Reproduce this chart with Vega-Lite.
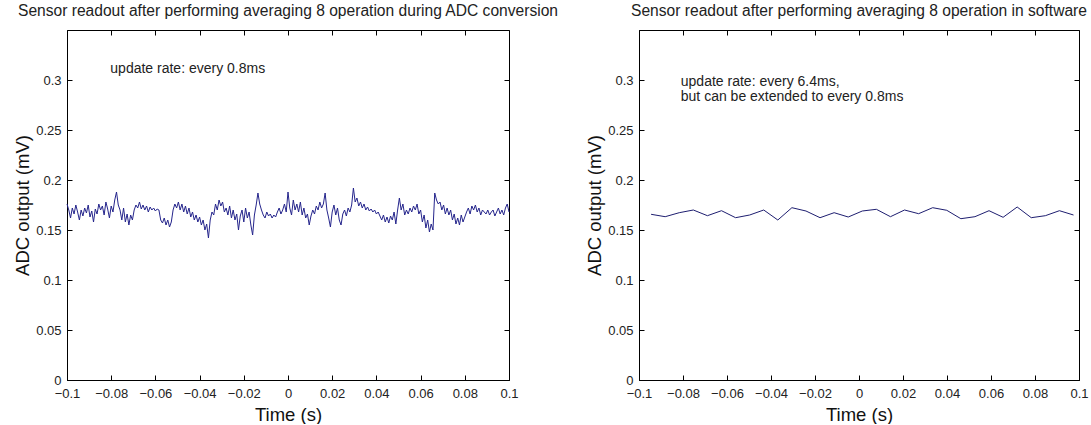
{
  "$schema": "https://vega.github.io/schema/vega-lite/v6.json",
  "background": "white",
  "padding": {"left": 13, "top": 3, "right": 2, "bottom": 0},
  "bounds": "flush",
  "spacing": 130,
  "config": {
    "font": "Liberation Sans",
    "view": {"stroke": "black", "strokeWidth": 1},
    "axis": {"grid": false, "domainColor": "black", "tickColor": "black", "labelColor": "#222", "labelFontSize": 13, "titleFontSize": 18.5, "titleFontWeight": "normal", "titleColor": "#111", "tickSize": -5, "labelFont": "Liberation Sans", "titleFont": "Liberation Sans"},
    "title": {"font": "Liberation Sans", "fontSize": 15.6, "fontWeight": "normal", "color": "#222", "offset": 10}
  },
  "datasets": {
    "left": [
{"t":-0.1,"v":0.176},{"t":-0.0992,"v":0.170},{"t":-0.0984,"v":0.162},{"t":-0.0976,"v":0.172},{"t":-0.0968,"v":0.166},{"t":-0.096,"v":0.175},{"t":-0.0952,"v":0.168},{"t":-0.0944,"v":0.160},{"t":-0.0936,"v":0.170},{"t":-0.0928,"v":0.164},
{"t":-0.092,"v":0.172},{"t":-0.0912,"v":0.167},{"t":-0.0904,"v":0.175},{"t":-0.0896,"v":0.163},{"t":-0.0888,"v":0.169},{"t":-0.088,"v":0.158},{"t":-0.0872,"v":0.171},{"t":-0.0864,"v":0.166},{"t":-0.0856,"v":0.176},{"t":-0.0848,"v":0.170},
{"t":-0.084,"v":0.174},{"t":-0.0832,"v":0.165},{"t":-0.0824,"v":0.178},{"t":-0.0816,"v":0.171},{"t":-0.0808,"v":0.162},{"t":-0.08,"v":0.174},{"t":-0.0792,"v":0.168},{"t":-0.0784,"v":0.180},{"t":-0.0776,"v":0.188},{"t":-0.0768,"v":0.175},
{"t":-0.076,"v":0.170},{"t":-0.0752,"v":0.160},{"t":-0.0744,"v":0.172},{"t":-0.0736,"v":0.158},{"t":-0.0728,"v":0.166},{"t":-0.072,"v":0.155},{"t":-0.0712,"v":0.165},{"t":-0.0704,"v":0.160},{"t":-0.0696,"v":0.170},{"t":-0.0688,"v":0.175},
{"t":-0.068,"v":0.172},{"t":-0.0672,"v":0.178},{"t":-0.0664,"v":0.171},{"t":-0.0656,"v":0.175},{"t":-0.0648,"v":0.170},{"t":-0.064,"v":0.174},{"t":-0.0632,"v":0.168},{"t":-0.0624,"v":0.173},{"t":-0.0616,"v":0.170},{"t":-0.0608,"v":0.172},
{"t":-0.06,"v":0.169},{"t":-0.0592,"v":0.171},{"t":-0.0584,"v":0.170},{"t":-0.0576,"v":0.160},{"t":-0.0568,"v":0.157},{"t":-0.056,"v":0.162},{"t":-0.0552,"v":0.155},{"t":-0.0544,"v":0.160},{"t":-0.0536,"v":0.153},{"t":-0.0528,"v":0.158},
{"t":-0.052,"v":0.170},{"t":-0.0512,"v":0.176},{"t":-0.0504,"v":0.172},{"t":-0.0496,"v":0.178},{"t":-0.0488,"v":0.170},{"t":-0.048,"v":0.176},{"t":-0.0472,"v":0.168},{"t":-0.0464,"v":0.174},{"t":-0.0456,"v":0.166},{"t":-0.0448,"v":0.172},
{"t":-0.044,"v":0.163},{"t":-0.0432,"v":0.168},{"t":-0.0424,"v":0.160},{"t":-0.0416,"v":0.165},{"t":-0.0408,"v":0.158},{"t":-0.04,"v":0.163},{"t":-0.0392,"v":0.155},{"t":-0.0384,"v":0.160},{"t":-0.0376,"v":0.150},{"t":-0.0368,"v":0.156},
{"t":-0.036,"v":0.142},{"t":-0.0352,"v":0.160},{"t":-0.0344,"v":0.168},{"t":-0.0336,"v":0.165},{"t":-0.0328,"v":0.176},{"t":-0.032,"v":0.170},{"t":-0.0312,"v":0.180},{"t":-0.0304,"v":0.174},{"t":-0.0296,"v":0.178},{"t":-0.0288,"v":0.168},
{"t":-0.028,"v":0.172},{"t":-0.0272,"v":0.165},{"t":-0.0264,"v":0.174},{"t":-0.0256,"v":0.162},{"t":-0.0248,"v":0.170},{"t":-0.024,"v":0.160},{"t":-0.0232,"v":0.166},{"t":-0.0224,"v":0.150},{"t":-0.0216,"v":0.164},{"t":-0.0208,"v":0.170},
{"t":-0.02,"v":0.158},{"t":-0.0192,"v":0.172},{"t":-0.0184,"v":0.162},{"t":-0.0176,"v":0.168},{"t":-0.0168,"v":0.155},{"t":-0.016,"v":0.145},{"t":-0.0152,"v":0.165},{"t":-0.0144,"v":0.175},{"t":-0.0136,"v":0.187},{"t":-0.0128,"v":0.176},
{"t":-0.012,"v":0.170},{"t":-0.0112,"v":0.165},{"t":-0.0104,"v":0.162},{"t":-0.0096,"v":0.168},{"t":-0.0088,"v":0.164},{"t":-0.008,"v":0.166},{"t":-0.0072,"v":0.162},{"t":-0.0064,"v":0.165},{"t":-0.0056,"v":0.163},{"t":-0.0048,"v":0.168},
{"t":-0.004,"v":0.172},{"t":-0.0032,"v":0.166},{"t":-0.0024,"v":0.170},{"t":-0.0016,"v":0.176},{"t":-0.0008,"v":0.168},{"t":0,"v":0.188},{"t":0.0008,"v":0.172},{"t":0.0016,"v":0.165},{"t":0.0024,"v":0.180},{"t":0.0032,"v":0.170},
{"t":0.004,"v":0.176},{"t":0.0048,"v":0.168},{"t":0.0056,"v":0.178},{"t":0.0064,"v":0.165},{"t":0.0072,"v":0.172},{"t":0.008,"v":0.162},{"t":0.0088,"v":0.166},{"t":0.0096,"v":0.155},{"t":0.0104,"v":0.164},{"t":0.0112,"v":0.170},
{"t":0.012,"v":0.166},{"t":0.0128,"v":0.174},{"t":0.0136,"v":0.170},{"t":0.0144,"v":0.178},{"t":0.0152,"v":0.172},{"t":0.016,"v":0.176},{"t":0.0168,"v":0.187},{"t":0.0176,"v":0.170},{"t":0.0184,"v":0.162},{"t":0.0192,"v":0.153},
{"t":0.02,"v":0.168},{"t":0.0208,"v":0.175},{"t":0.0216,"v":0.165},{"t":0.0224,"v":0.172},{"t":0.0232,"v":0.160},{"t":0.024,"v":0.155},{"t":0.0248,"v":0.166},{"t":0.0256,"v":0.170},{"t":0.0264,"v":0.164},{"t":0.0272,"v":0.172},
{"t":0.028,"v":0.168},{"t":0.0288,"v":0.175},{"t":0.0296,"v":0.192},{"t":0.0304,"v":0.178},{"t":0.0312,"v":0.182},{"t":0.032,"v":0.174},{"t":0.0328,"v":0.178},{"t":0.0336,"v":0.172},{"t":0.0344,"v":0.176},{"t":0.0352,"v":0.170},
{"t":0.036,"v":0.173},{"t":0.0368,"v":0.169},{"t":0.0376,"v":0.171},{"t":0.0384,"v":0.168},{"t":0.0392,"v":0.170},{"t":0.04,"v":0.166},{"t":0.0408,"v":0.168},{"t":0.0416,"v":0.164},{"t":0.0424,"v":0.160},{"t":0.0432,"v":0.165},
{"t":0.044,"v":0.158},{"t":0.0448,"v":0.163},{"t":0.0456,"v":0.157},{"t":0.0464,"v":0.164},{"t":0.0472,"v":0.160},{"t":0.048,"v":0.168},{"t":0.0488,"v":0.156},{"t":0.0496,"v":0.170},{"t":0.0504,"v":0.182},{"t":0.0512,"v":0.170},
{"t":0.052,"v":0.176},{"t":0.0528,"v":0.165},{"t":0.0536,"v":0.170},{"t":0.0544,"v":0.166},{"t":0.0552,"v":0.172},{"t":0.056,"v":0.168},{"t":0.0568,"v":0.174},{"t":0.0576,"v":0.170},{"t":0.0584,"v":0.176},{"t":0.0592,"v":0.166},
{"t":0.06,"v":0.170},{"t":0.0608,"v":0.158},{"t":0.0616,"v":0.165},{"t":0.0624,"v":0.152},{"t":0.0632,"v":0.160},{"t":0.064,"v":0.148},{"t":0.0648,"v":0.156},{"t":0.0656,"v":0.150},{"t":0.0664,"v":0.187},{"t":0.0672,"v":0.180},
{"t":0.068,"v":0.176},{"t":0.0688,"v":0.178},{"t":0.0696,"v":0.170},{"t":0.0704,"v":0.175},{"t":0.0712,"v":0.166},{"t":0.072,"v":0.172},{"t":0.0728,"v":0.165},{"t":0.0736,"v":0.170},{"t":0.0744,"v":0.160},{"t":0.0752,"v":0.166},
{"t":0.076,"v":0.156},{"t":0.0768,"v":0.162},{"t":0.0776,"v":0.155},{"t":0.0784,"v":0.165},{"t":0.0792,"v":0.158},{"t":0.08,"v":0.163},{"t":0.0808,"v":0.168},{"t":0.0816,"v":0.172},{"t":0.0824,"v":0.166},{"t":0.0832,"v":0.174},
{"t":0.084,"v":0.170},{"t":0.0848,"v":0.175},{"t":0.0856,"v":0.168},{"t":0.0864,"v":0.172},{"t":0.0872,"v":0.165},{"t":0.088,"v":0.170},{"t":0.0888,"v":0.168},{"t":0.0896,"v":0.166},{"t":0.0904,"v":0.170},{"t":0.0912,"v":0.165},
{"t":0.092,"v":0.168},{"t":0.0928,"v":0.170},{"t":0.0936,"v":0.164},{"t":0.0944,"v":0.168},{"t":0.0952,"v":0.172},{"t":0.096,"v":0.166},{"t":0.0968,"v":0.170},{"t":0.0976,"v":0.165},{"t":0.0984,"v":0.172},{"t":0.0992,"v":0.176},
{"t":0.1,"v":0.168}
    ],
    "right": [
{"t":-0.0945,"v":0.1657},{"t":-0.0881,"v":0.1633},{"t":-0.0817,"v":0.1673},{"t":-0.0753,"v":0.170},{"t":-0.0689,"v":0.1643},{"t":-0.0625,"v":0.1693},{"t":-0.0561,"v":0.1623},{"t":-0.0497,"v":0.165},{"t":-0.0433,"v":0.170},{"t":-0.0369,"v":0.160},
{"t":-0.0305,"v":0.1723},{"t":-0.0241,"v":0.169},{"t":-0.0177,"v":0.1623},{"t":-0.0113,"v":0.1673},{"t":-0.0049,"v":0.1630},{"t":0.0015,"v":0.169},{"t":0.0079,"v":0.1707},{"t":0.0143,"v":0.1633},{"t":0.0207,"v":0.170},{"t":0.0271,"v":0.1663},
{"t":0.0335,"v":0.1723},{"t":0.0399,"v":0.1697},{"t":0.0463,"v":0.1613},{"t":0.0527,"v":0.1633},{"t":0.0591,"v":0.1693},{"t":0.0655,"v":0.1627},{"t":0.0719,"v":0.173},{"t":0.0783,"v":0.1623},{"t":0.0847,"v":0.1643},{"t":0.0911,"v":0.1693},
{"t":0.0975,"v":0.165}
    ],
    "notesL": [{"t": -0.0804, "v": 0.311, "label": "update rate: every 0.8ms"}],
    "notesR": [
      {"t": -0.081, "v": 0.298, "label": "update rate: every 6.4ms,"},
      {"t": -0.081, "v": 0.283, "label": "but can be extended to every 0.8ms"}
    ]
  },
  "hconcat": [
    {
      "width": 442,
      "height": 350,
      "title": {"text": "Sensor readout after performing averaging 8 operation during ADC conversion"},
      "layer": [
        {
          "data": {"name": "left"},
          "mark": {"type": "line", "color": "#25258c", "strokeWidth": 1},
          "encoding": {
            "x": {"field": "t", "type": "quantitative", "scale": {"domain": [-0.1, 0.1], "nice": false, "zero": false},
              "axis": {"orient": "bottom", "title": "Time (s)", "values": [-0.1,-0.08,-0.06,-0.04,-0.02,0,0.02,0.04,0.06,0.08,0.1], "format": "~g", "labelPadding": 12, "titlePadding": 5, "labelFlush": false}},
            "y": {"field": "v", "type": "quantitative", "scale": {"domain": [0, 0.35], "nice": false},
              "axis": {"orient": "left", "title": "ADC output (mV)", "values": [0,0.05,0.1,0.15,0.2,0.25,0.3], "format": "~g", "labelPadding": 11, "titlePadding": 3}}
          }
        },
        {
          "data": {"name": "notesL"},
          "mark": {"type": "text", "align": "left", "baseline": "middle", "fontSize": 14, "color": "#222", "font": "Liberation Sans"},
          "encoding": {
            "x": {"field": "t", "type": "quantitative", "axis": {"orient": "top", "labels": false, "title": null, "values": [-0.1,-0.08,-0.06,-0.04,-0.02,0,0.02,0.04,0.06,0.08,0.1], "domain": false}},
            "y": {"field": "v", "type": "quantitative", "axis": {"orient": "right", "labels": false, "title": null, "values": [0,0.05,0.1,0.15,0.2,0.25,0.3], "domain": false}},
            "text": {"field": "label"}
          }
        }
      ],
      "resolve": {"scale": {"x": "shared", "y": "shared"}}
    },
    {
      "width": 440,
      "height": 350,
      "title": {"text": "Sensor readout after performing averaging 8 operation in software"},
      "layer": [
        {
          "data": {"name": "right"},
          "mark": {"type": "line", "color": "#1e1e70", "strokeWidth": 1},
          "encoding": {
            "x": {"field": "t", "type": "quantitative", "scale": {"domain": [-0.1, 0.1], "nice": false, "zero": false},
              "axis": {"orient": "bottom", "title": "Time (s)", "values": [-0.1,-0.08,-0.06,-0.04,-0.02,0,0.02,0.04,0.06,0.08,0.1], "format": "~g", "labelPadding": 12, "titlePadding": 5, "labelFlush": false}},
            "y": {"field": "v", "type": "quantitative", "scale": {"domain": [0, 0.35], "nice": false},
              "axis": {"orient": "left", "title": "ADC output (mV)", "values": [0,0.05,0.1,0.15,0.2,0.25,0.3], "format": "~g", "labelPadding": 11, "titlePadding": 3}}
          }
        },
        {
          "data": {"name": "notesR"},
          "mark": {"type": "text", "align": "left", "baseline": "middle", "fontSize": 14, "color": "#222", "font": "Liberation Sans"},
          "encoding": {
            "x": {"field": "t", "type": "quantitative", "axis": {"orient": "top", "labels": false, "title": null, "values": [-0.1,-0.08,-0.06,-0.04,-0.02,0,0.02,0.04,0.06,0.08,0.1], "domain": false}},
            "y": {"field": "v", "type": "quantitative", "axis": {"orient": "right", "labels": false, "title": null, "values": [0,0.05,0.1,0.15,0.2,0.25,0.3], "domain": false}},
            "text": {"field": "label"}
          }
        }
      ],
      "resolve": {"scale": {"x": "shared", "y": "shared"}}
    }
  ]
}
